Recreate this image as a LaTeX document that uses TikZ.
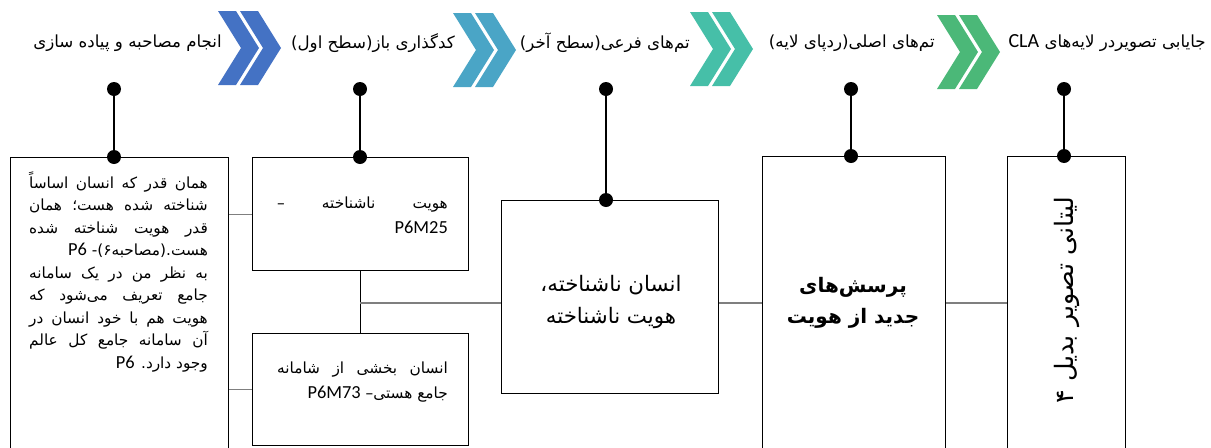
\documentclass[tikz,border=0pt]{standalone}
\usepackage{fontspec}
\setmainfont{DejaVu Sans}
\newfontfamily\fa[Script=Arabic]{DejaVu Sans}
\newfontfamily\lat[Scale=1.2]{Carlito}
\TeXXeTstate=1
\newcommand{\lr}[1]{\beginL{\lat #1}\endL}
\newcommand{\jrow}[2]{\hbox to #1{#2}}
\newcommand{\rrow}[2]{\hbox to #1{\hfill #2}}
\definecolor{chevA}{HTML}{4472C4}
\definecolor{chevB}{HTML}{4AA5C6}
\definecolor{chevC}{HTML}{46BFA8}
\definecolor{chevD}{HTML}{4BB878}
\definecolor{linkgray}{HTML}{7F7F7F}
\begin{document}
\begin{tikzpicture}[
    x=0.75pt, y=-0.75pt,
    card/.style={draw, line width=0.9pt, anchor=north west, inner sep=0pt},
    link/.style={draw=linkgray, line width=0.8pt},
    stem/.style={draw=black, line width=1pt},
    pin/.style={circle, fill=black, inner sep=0pt, minimum size=10.5pt},
    stage/.style={anchor=east, inner sep=0pt, font=\fa\fontsize{12.5}{15}\selectfont},
    chevron/.pic={
        \fill[pic actions] (0,0) -- (18,0) -- (41,37) -- (18,74) -- (0,74) -- (23,37) -- cycle;
        \fill[pic actions] (22,0) -- (40,0) -- (63,37) -- (40,74) -- (22,74) -- (45,37) -- cycle;
    }
]
\useasboundingbox (0,0) rectangle (1211,447);

% Stage arrows
\pic[fill=chevA] at (218,11) {chevron};
\pic[fill=chevB] at (453,13) {chevron};
\pic[fill=chevC] at (690,12) {chevron};
\pic[fill=chevD] at (937,15) {chevron};

% Stage labels
\node[stage] (interview) at (222,43) {\beginR انجام مصاحبه و پیاده سازی\endR};
\node[stage] (opencode) at (455,43) {\beginR کدگذاری باز(سطح اول)\endR};
\node[stage] (subtheme) at (690,43) {\beginR تم‌های فرعی(سطح آخر)\endR};
\node[stage] (maintheme) at (935,43) {\beginR تم‌های اصلی(ردپای لایه)\endR};
\node[stage] (placing) at (1206,43) {\beginR جایابی تصویردر لایه‌های \lr{CLA}\endR};

% Boxes
\node[card, minimum width=218*0.75pt, minimum height=320*0.75pt] (quote) at (10,157) {};
\node[card, minimum width=216*0.75pt, minimum height=113*0.75pt] (unknownid) at (252,157) {};
\node[card, minimum width=216*0.75pt, minimum height=112*0.75pt] (partbeing) at (252,333) {};
\node[card, minimum width=217*0.75pt, minimum height=193*0.75pt] (unknownman) at (501,200) {};
\node[card, minimum width=183*0.75pt, minimum height=320*0.75pt] (questions) at (762,156) {};
\node[card, minimum width=118*0.75pt, minimum height=320*0.75pt] (litany) at (1007,156) {};

% Box texts
\node[inner sep=0pt, align=right, font=\fa\fontsize{11.5}{16.9}\selectfont] (quotetext) at (118.5,272) {%
    \jrow{134pt}{\beginR همان قدر که انسان اساساً\endR}\\
    \jrow{134pt}{\beginR شناخته شده هست؛ همان\endR}\\
    \jrow{134pt}{\beginR قدر هویت شناخته شده\endR}\\
    \rrow{134pt}{\beginR هست.(مصاحبه۶)-  \lr{P6}\endR}\\
    \jrow{134pt}{\beginR به نظر من در یک سامانه\endR}\\
    \jrow{134pt}{\beginR جامع تعریف می‌شود که\endR}\\
    \jrow{134pt}{\beginR هویت هم با خود انسان در\endR}\\
    \jrow{134pt}{\beginR آن سامانه جامع کل عالم\endR}\\
    \rrow{134pt}{\beginR وجود دارد. \lr{P6}\endR}};
\node[inner sep=0pt, align=right, font=\fa\fontsize{11.5}{18.75}\selectfont] (unknownidtext) at (362.5,215.5) {%
    \jrow{128pt}{\beginR هویت ناشناخته –\endR}\\
    \rrow{128pt}{\beginR \lr{P6M25}\endR}};
\node[inner sep=0pt, align=right, font=\fa\fontsize{11.5}{18.75}\selectfont] (partbeingtext) at (362.5,382.5) {%
    \jrow{128pt}{\beginR انسان بخشی از شامانه\endR}\\
    \rrow{128pt}{\beginR جامع هستی– \lr{P6M73}\endR}};
\node[inner sep=0pt, align=center, font=\fa\fontsize{16}{24}\selectfont] (unknownmantext) at (611,302) {%
    \beginR انسان ناشناخته،\endR\\ \beginR هویت ناشناخته\endR};
\node[inner sep=0pt, align=center, font=\fa\bfseries\fontsize{15}{23.5}\selectfont] (questionstext) at (853,303) {%
    \beginR پرسش‌های\endR\\ \beginR جدید از هویت\endR};
\node[inner sep=0pt, rotate=90, font=\fa\fontsize{19}{22}\selectfont] (litanytext) at (1067,300) {%
    \beginR لیتانی تصویر بدیل ۴\endR};

% Pins and stems
\coordinate (topA) at (114,89);
\coordinate (topB) at (360,89);
\coordinate (topC) at (606,89);
\coordinate (topD) at (851,89);
\coordinate (topE) at (1064,89);
\draw[stem] (topA) -- (topA |- quote.north);
\draw[stem] (topB) -- (topB |- unknownid.north);
\draw[stem] (topC) -- (topC |- unknownman.north);
\draw[stem] (topD) -- (topD |- questions.north);
\draw[stem] (topE) -- (topE |- litany.north);
\node[pin] (pinA) at (topA) {};
\node[pin] (pinB) at (topB) {};
\node[pin] (pinC) at (topC) {};
\node[pin] (pinD) at (topD) {};
\node[pin] (pinE) at (topE) {};
\node[pin] (dotA) at (topA |- quote.north) {};
\node[pin] (dotB) at (topB |- unknownid.north) {};
\node[pin] (dotC) at (topC |- unknownman.north) {};
\node[pin] (dotD) at (topD |- questions.north) {};
\node[pin] (dotE) at (topE |- litany.north) {};

% Links
\coordinate (fork) at (360,303);
\draw[link] (quote.east |- unknownid.west) -- (unknownid.west);
\draw[link] (quote.east |- partbeing.west) -- (partbeing.west);
\draw[stem, line width=0.8pt] (unknownid.south) -- (partbeing.north);
\draw[link] (fork) -- (fork -| unknownman.west);
\draw[link] (fork -| unknownman.east) -- (fork -| questions.west);
\draw[link] (fork -| questions.east) -- (fork -| litany.west);

\end{tikzpicture}
\end{document}
